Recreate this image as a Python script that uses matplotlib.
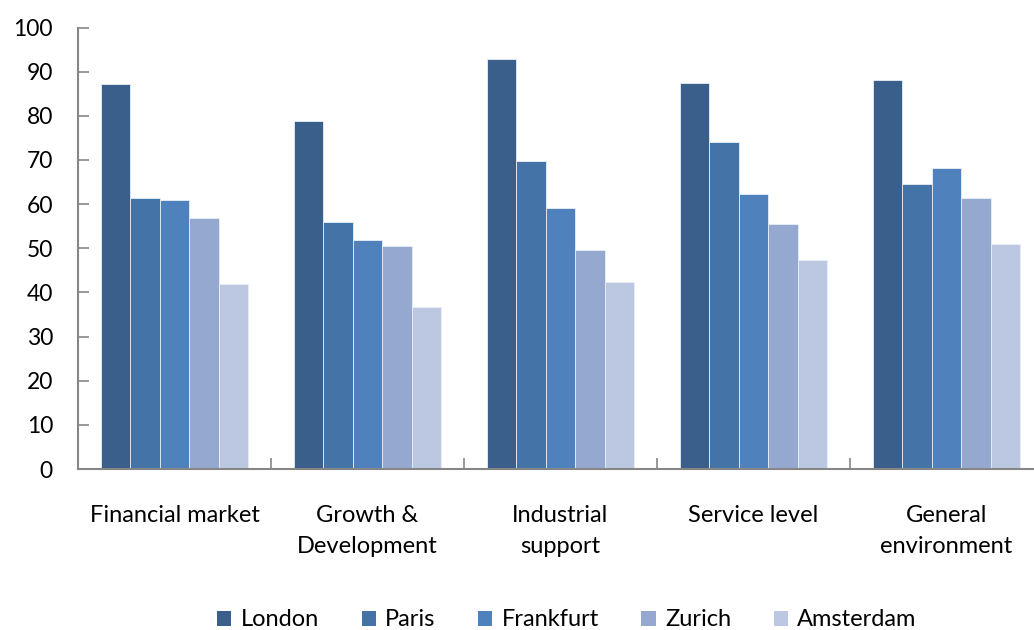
import matplotlib
matplotlib.use("Agg")
import matplotlib.pyplot as plt
from matplotlib.patches import Patch
import numpy as np

categories = ["Financial market", "Growth &\nDevelopment", "Industrial\nsupport", "Service level", "General\nenvironment"]
cities = ["London", "Paris", "Frankfurt", "Zurich", "Amsterdam"]
london = [87.1, 78.9, 92.8, 87.5, 88.0]
paris = [61.3, 55.9, 69.8, 74.0, 64.5]
frankfurt = [60.9, 51.8, 59.1, 62.2, 68.1]
zurich = [56.8, 50.5, 49.7, 55.5, 61.3]
amsterdam = [42.0, 36.6, 42.4, 47.4, 50.9]
series = [london, paris, frankfurt, zurich, amsterdam]
colors = ["#3A5F8B", "#4473A8", "#4F81BD", "#95A9D0", "#BCC8E1"]
yticks = [0, 10, 20, 30, 40, 50, 60, 70, 80, 90, 100]

plt.rcParams['font.family'] = ['Lato', 'DejaVu Sans']

W, H = 1034, 630
fig = plt.figure(figsize=(W / 100, H / 100), dpi=100)
ax = fig.add_axes([78 / W, 1 - 469 / H, (1043 - 78) / W, (469 - 27.5) / H])

x = np.arange(len(categories))
bw = 0.153
for i, (vals, c) in enumerate(zip(series, colors)):
    ax.bar(x + (i - 2) * bw, vals, width=bw, color=c, edgecolor="#E8EEF6", linewidth=0.6, label=cities[i], zorder=2)

ax.set_xlim(-0.5, len(categories) - 0.5)
ax.set_ylim(0, 100)
ax.set_yticks(yticks)
ax.tick_params(axis="y", direction="in", length=8, color="#868686", width=1.2, labelsize=16.5, pad=18, labelcolor="black")
ax.set_xticks(x)
ax.set_xticklabels(categories, fontsize=17, linespacing=1.6)
ax.tick_params(axis="x", which="major", length=0, pad=26)
ax.set_xticks(np.arange(0.5, len(categories) - 0.5, 1), minor=True)
ax.tick_params(axis="x", which="minor", direction="in", length=8, color="#868686", width=1.2)
for s in ["top", "right"]:
    ax.spines[s].set_visible(False)
for s in ["left", "bottom"]:
    ax.spines[s].set_color("#868686")
    ax.spines[s].set_linewidth(1.5)

handles = [Patch(facecolor=c, edgecolor="none") for c in colors]
fig.legend(handles, cities, loc="center", bbox_to_anchor=(567 / W, 1 - 620 / H), ncol=5, frameon=False,
           fontsize=17, handlelength=0.6, handleheight=0.6, handletextpad=0.4, columnspacing=1.8)

fig.savefig("out.png", dpi=100)
